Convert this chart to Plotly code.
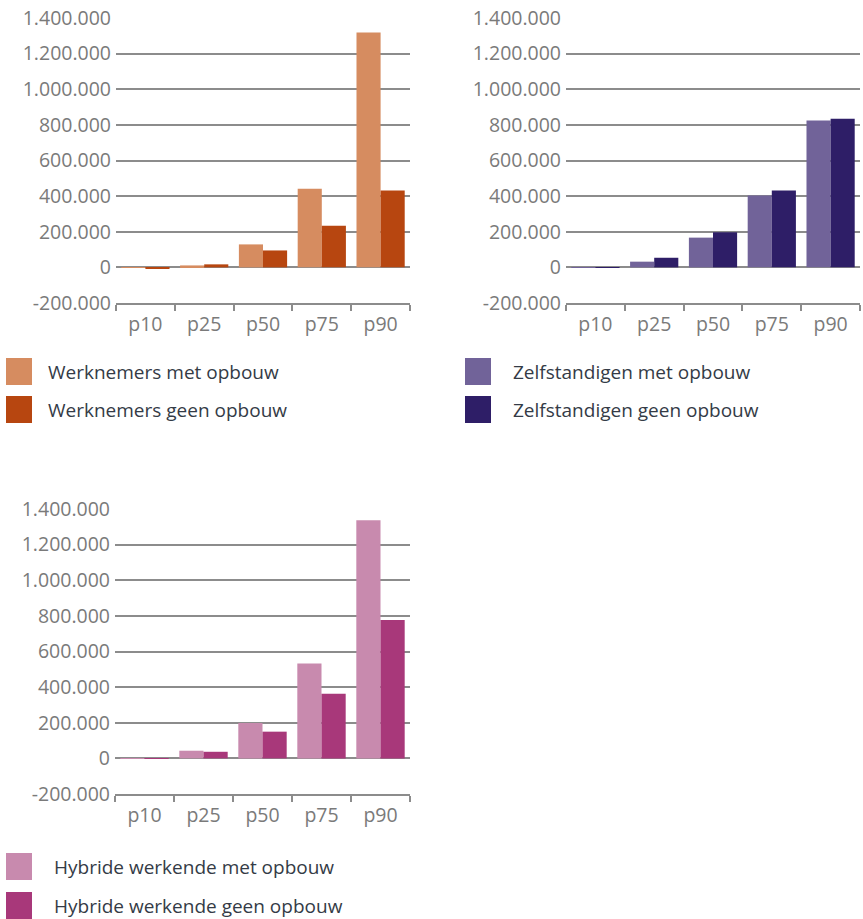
import plotly.graph_objects as go

categories = ["p10", "p25", "p50", "p75", "p90"]

werknemers_met = [-3000, 11000, 129000, 442000, 1318000]
werknemers_geen = [-6000, 17000, 95000, 234000, 431000]
zelfstandigen_met = [2000, 32000, 167000, 403000, 824000]
zelfstandigen_geen = [2000, 54000, 197000, 431000, 835000]
hybride_met = [2000, 43000, 199000, 532000, 1337000]
hybride_geen = [2000, 37000, 150000, 363000, 777000]

series_names = [
    ["Werknemers met opbouw", "Werknemers geen opbouw"],
    ["Zelfstandigen met opbouw", "Zelfstandigen geen opbouw"],
    ["Hybride werkende met opbouw", "Hybride werkende geen opbouw"],
]
colors = [
    ["#D68C60", "#B74610"],
    ["#716399", "#2E1E67"],
    ["#C88AAE", "#A8387A"],
]

y_tickvals = [-200000, 0, 200000, 400000, 600000, 800000, 1000000, 1200000, 1400000]
y_ticktext = ["-200.000", "0", "200.000", "400.000", "600.000", "800.000",
              "1.000.000", "1.200.000", "1.400.000"]

W, H = 863, 919
FONT = "Open Sans"
TICKCOL = "#7a7a7a"
TEXTCOL = "#343b46"
GRIDCOL = "#8c8c8c"


def px(x):
    return x / W


def py(y):
    return 1 - y / H


panels = [
    (werknemers_met, werknemers_geen, (116, 410), (18, 303), (6, 46), (358, 396)),
    (zelfstandigen_met, zelfstandigen_geen, (566, 860), (18, 303), (465, 511), (358, 396)),
    (hybride_met, hybride_geen, (115, 410), (509, 794), (6, 52), (853, 892)),
]

fig = go.Figure()
shapes = []
annotations = []

for i, (met, geen, (x0, x1), (yt, yb), (sx, tx), (sy1, sy2)) in enumerate(panels):
    sfx = "" if i == 0 else str(i + 1)
    xa = "x" + sfx
    ya = "y" + sfx
    for j, vals in enumerate([met, geen]):
        fig.add_trace(go.Bar(
            x=categories, y=vals, name=series_names[i][j],
            marker=dict(color=colors[i][j], line=dict(width=0)),
            xaxis=xa, yaxis=ya, showlegend=False,
        ))
    fig.layout["xaxis" + sfx] = dict(
        domain=[px(x0), px(x1)], anchor=ya, type="category",
        showline=True, linecolor=GRIDCOL, linewidth=1.5,
        ticks="outside", ticklen=6, tickwidth=1.5, tickcolor=GRIDCOL,
        tickson="boundaries", showgrid=False, automargin=False,
        ticklabelstandoff=3, ticklabeloverflow="allow",
        tickfont=dict(family=FONT, size=19.5, color=TICKCOL),
        fixedrange=True,
    )
    fig.layout["yaxis" + sfx] = dict(
        domain=[py(yb), py(yt)], anchor=xa,
        range=[-200000, 1400000], tickvals=y_tickvals, ticktext=y_ticktext,
        showgrid=True, gridcolor=GRIDCOL, gridwidth=1.5,
        zeroline=True, zerolinecolor=GRIDCOL, zerolinewidth=1.5,
        showline=False, ticks="", automargin=False,
        ticklabelstandoff=4, ticklabeloverflow="allow",
        tickfont=dict(family=FONT, size=19.5, color=TICKCOL),
        fixedrange=True,
    )
    for j, sy in enumerate([sy1, sy2]):
        shapes.append(dict(
            type="rect", xref="paper", yref="paper",
            x0=px(sx), x1=px(sx + 26), y0=py(sy + 27), y1=py(sy),
            fillcolor=colors[i][j], line=dict(width=0),
        ))
        annotations.append(dict(
            text=series_names[i][j], xref="paper", yref="paper",
            x=px(tx), y=py(sy + 14), xanchor="left", yanchor="middle",
            showarrow=False, font=dict(family=FONT, size=19, color=TEXTCOL),
        ))

fig.update_layout(
    width=W, height=H,
    margin=dict(l=0, r=0, t=0, b=0, autoexpand=False),
    paper_bgcolor="white", plot_bgcolor="white",
    barmode="group", bargap=0.18, bargroupgap=0,
    showlegend=False,
    shapes=shapes, annotations=annotations,
)

fig.write_html(
    "out.html",
    config={"displayModeBar": False},
    post_script="document.body.style.margin='0';document.body.style.overflow='hidden';",
)
